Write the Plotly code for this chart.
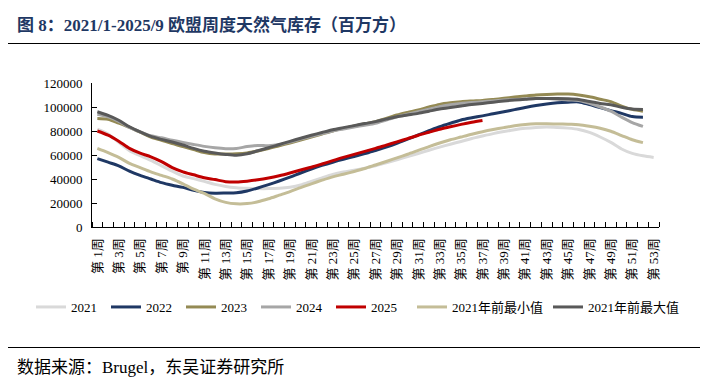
import plotly.graph_objects as go

weeks = list(range(1, 54))
label_weeks = [w for w in weeks if w % 2 == 1]
label_text = [f"第 {w}周" for w in label_weeks]

s2021 = [81500, 77500, 70500, 63500, 59500, 55500, 51000, 46500, 42500, 40300,
         38000, 35500, 33800, 32800, 32300, 32000, 32000, 32300, 33200, 35000,
         38000, 41000, 43800, 45800, 47300, 49000, 51000, 53500, 56000, 58700,
         61300, 64000, 66600, 69000, 71300, 73700, 75800, 77800, 79500, 81000,
         82200, 83000, 83300, 83000, 82400, 81300, 78800, 75000, 70500, 65000,
         61300, 59300, 58000]
s2022 = [57000, 54000, 51000, 46500, 43000, 40000, 37000, 34800, 33000, 30500,
         28800, 28200, 28300, 28500, 30000, 32500, 35300, 38300, 41500, 45000,
         48300, 51300, 54000, 56500, 58800, 61200, 63600, 66500, 69700, 73200,
         76700, 80200, 83600, 86500, 89200, 91000, 92600, 94400, 96100, 97800,
         99600, 101200, 102500, 103500, 104000, 104200, 102000, 99500, 97000, 94700,
         92000, 91500]
s2023 = [90500, 89800, 86500, 83000, 79000, 75000, 72300, 69500, 67000, 64500,
         62000, 60800, 60800, 61000, 61700, 63300, 65300, 67700, 70000, 72500,
         75000, 77500, 80000, 82200, 84200, 86000, 87800, 90500, 93300, 95500,
         97500, 100000, 102200, 103500, 104400, 105000, 105500, 106300, 107200, 108300,
         109200, 110000, 110500, 110800, 110800, 110000, 108500, 106500, 104500, 100800,
         98000, 96500]
s2024 = [94000, 91800, 88000, 83000, 79300, 76000, 74300, 72300, 70500, 68800,
         67200, 66000, 65300, 65500, 67000, 68000, 67700, 68700, 70800, 73200,
         75600, 77800, 80000, 81700, 83300, 84800, 86400, 89200, 91900, 94000,
         96100, 98200, 100300, 101800, 103000, 103700, 104400, 105100, 105800, 106300,
         106700, 107000, 107000, 106500, 105800, 105500, 103000, 100000, 96500, 91500,
         87000, 83800]
s2025 = [80000, 76500, 71500, 65500, 61500, 58500, 54500, 49500, 46000, 43500,
         41000, 39500, 37800, 37500, 38200, 39300, 40800, 42700, 45000, 47500,
         49800, 52500, 55300, 58000, 60500, 63000, 65500, 68200, 70900, 73700,
         76500, 79000, 81500, 83500, 85500, 87300, 88800]
s_min = [65500, 62000, 58000, 53000, 49500, 46000, 43000, 40000, 36000, 31500,
         28000, 23500, 20500, 19300, 19500, 21000, 23500, 26500, 29500, 32800,
         36000, 39000, 41800, 44000, 46300, 48800, 51700, 54600, 57600, 60600,
         63800, 67000, 70000, 72700, 75000, 77300, 79400, 81200, 82800, 84300,
         85400, 86000, 86100, 85900, 85600, 85300, 84000, 82300, 79800, 76200,
         72700, 70300]
s_max = [96000, 93000, 89000, 83500, 79200, 75500, 73000, 70800, 68300, 65500,
         63200, 61700, 60500, 59800, 61000, 63500, 66000, 68700, 71400, 74000,
         76400, 78800, 81100, 82800, 84500, 86200, 87800, 89900, 91900, 93300,
         94700, 96500, 98300, 99600, 100800, 102000, 103000, 104000, 105000, 105800,
         106400, 107000, 107000, 107000, 106800, 106200, 104500, 103000, 101800, 99800,
         98300, 98000]

series = [
    ("2021", s2021, "#d9d9d9", "legend"),
    ("2022", s2022, "#1f3864", "legend"),
    ("2023", s2023, "#948a54", "legend"),
    ("2024", s2024, "#a6a6a6", "legend"),
    ("2025", s2025, "#c00000", "legend"),
    ("2021年前最小值", s_min, "#c4bd97", "legend2"),
    ("2021年前最大值", s_max, "#595959", "legend2"),
]

SERIF = "Liberation Serif, Noto Sans CJK SC, serif"

fig = go.Figure()
for name, vals, color, leg in series:
    fig.add_trace(go.Scatter(
        x=weeks[:len(vals)], y=vals, name=name, mode="lines",
        line=dict(color=color, width=3, shape="spline", smoothing=0.8),
        legend=leg, hoverinfo="skip",
    ))

# page body has an 8px margin: figure is 700x383, placed at (8, 8) in the window
OFF = 8
W, H = 708 - OFF, 391 - OFF
# plot area in window pixels
L, R, T, B = 92, 659, 83, 227
def px(x):
    return (x - L) / (R - L)
def py(y):
    return (B - y) / (B - T)
def cx(x):
    return (x - OFF) / W
def cy(y):
    return 1 - (y - OFF) / H

def leg(xpix, ew):
    return dict(orientation="h", xref="container", yref="container",
                x=cx(xpix), y=cy(307), xanchor="left", yanchor="middle",
                entrywidth=ew, entrywidthmode="pixels",
                font=dict(family=SERIF, size=13, color="black"), bgcolor="rgba(0,0,0,0)")

# horizontal rules above and below the chart, drawn as thin filled annotation boxes
rules = []
for yline in (43, 347):
    rules.append(dict(
        text=" ", xref="paper", yref="paper", x=px(6), y=py(yline),
        xanchor="left", yanchor="middle", showarrow=False,
        width=701, height=1, borderpad=0, borderwidth=0,
        bgcolor="black", font=dict(size=1, color="black"),
    ))

fig.update_layout(
    width=W, height=H,
    margin=dict(l=L - OFF, r=W - (R - OFF), t=T - OFF, b=H - (B - OFF), autoexpand=False),
    paper_bgcolor="white", plot_bgcolor="white",
    font=dict(family=SERIF, size=12, color="black"),
    title=dict(
        text="图 8：2021/1-2025/9 欧盟周度天然气库存（百万方）",
        font=dict(family=SERIF, size=17, color="#1f3864", weight="bold"),
        xref="container", yref="container", x=cx(17), y=cy(25),
        xanchor="left", yanchor="middle",
    ),
    xaxis=dict(
        range=[0.5, 53.5], tickmode="array", tickvals=label_weeks, ticktext=label_text,
        ticks="", tickangle=-90, showgrid=False, zeroline=False,
        showline=True, linecolor="black", linewidth=1, ticklabelstandoff=5,
        tickfont=dict(family=SERIF, size=13, color="black"),
        minor=dict(tickmode="array", tickvals=[w - 0.5 for w in weeks] + [53.5],
                   ticks="inside", ticklen=5, tickcolor="black", tickwidth=1, showgrid=False),
    ),
    yaxis=dict(
        range=[0, 120000], dtick=20000, tick0=0, showgrid=False, zeroline=False,
        showline=True, linecolor="black", linewidth=1,
        ticks="inside", ticklen=5, tickcolor="black", ticklabelstandoff=6,
        tickformat="d", tickfont=dict(family=SERIF, size=13, color="black"),
    ),
    legend=leg(31, 30),
    legend2=leg(412, 91),
    annotations=[
        dict(text="数据来源：Brugel，东吴证券研究所", xref="paper", yref="paper",
             x=px(15), y=py(367), xanchor="left", yanchor="middle", showarrow=False,
             font=dict(family=SERIF, size=17, color="black")),
    ] + rules,
)

fig.write_html("out.html")
